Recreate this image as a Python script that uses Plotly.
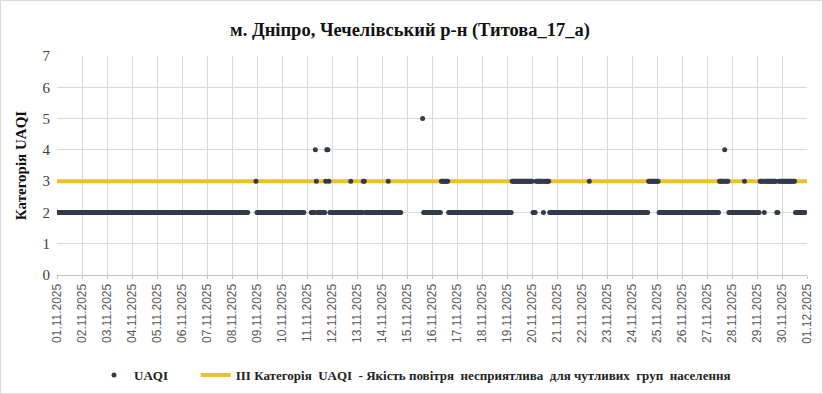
import datetime as dt
import plotly.graph_objects as go

# ---- data (hourly UAQI category, run-length encoded from 01.11.2025 00:00) ----
run_values = [2, None, 3, 2, None, 2, 4, 3, 2, 3, 4, 3, 2, 3, 2, 3, 2, 3, 2, None,
              5, 2, 3, 2, 3, 2, 3, 2, 3, 2, 3, 2, 3, 2, 3, 4, 3, 2, 3, 2,
              3, 2, 3, 2, 3, 2]
run_hours = [184, 7, 1, 46, 6, 4, 1, 1, 8, 1, 2, 1, 20, 1, 11, 2, 22, 1, 12, 20,
             1, 17, 7, 61, 20, 3, 7, 1, 5, 38, 1, 56, 10, 58, 5, 1, 3, 15, 1, 14,
             4, 1, 11, 2, 16, 10]
threshold_value = 3
start_date = "2025-11-01"
end_date = "2025-12-01"
tick_labels = ["%02d.11.2025" % d for d in range(1, 31)] + ["01.12.2025"]

title_text = "м. Дніпро, Чечелівський р-н (Титова_17_а)"
series_name = "UAQI"
threshold_name = "III Категорія  UAQI  - Якість повітря  несприятлива  для чутливих  груп  населення"

# ---- expand runs into hourly series ----
t0 = dt.datetime.fromisoformat(start_date)
xs, ys = [], []
h = 0
for v, n in zip(run_values, run_hours):
    for _ in range(n):
        if v is not None:
            xs.append(t0 + dt.timedelta(hours=h))
            ys.append(v)
        h += 1

tick_vals = [t0 + dt.timedelta(days=i) for i in range(len(tick_labels))]

serif = "Liberation Serif"
sans = "Liberation Sans"

fig = go.Figure()
fig.add_trace(go.Scatter(
    x=[start_date, end_date], y=[threshold_value, threshold_value],
    mode="lines", name="<b>" + threshold_name + "</b>",
    line=dict(color="#EEC12B", width=4), legendrank=2, hoverinfo="skip"))
fig.add_trace(go.Scatter(
    x=xs, y=ys, mode="markers",
    name="<b>" + series_name + "</b>" + "\u00a0" * 7,
    marker=dict(color="#333B4A", size=5), legendrank=1))

W, H = 823, 394
L, R, T, B = 57, 16, 56, 119
pw, ph = W - L - R, H - T - B

fig.update_layout(
    width=W, height=H,
    margin=dict(l=L, r=R, t=T, b=B, autoexpand=False),
    paper_bgcolor="white", plot_bgcolor="white",
    font=dict(family=serif),
    title=dict(text="<b>" + title_text + "</b>", x=410 / W, xref="container",
               xanchor="center", y=1 - 30 / H, yref="container", yanchor="middle",
               font=dict(family=serif, size=18.5, color="#111111")),
    showlegend=True,
    legend=dict(orientation="h", x=(415 - L) / pw, xanchor="center",
                y=(T + ph - 375) / ph, yanchor="middle",
                font=dict(family=serif, size=13, color="#222222"),
                itemwidth=30, tracegroupgap=0, bgcolor="rgba(0,0,0,0)"),
    shapes=[dict(type="rect", xref="paper", yref="paper",
                 x0=(0.5 - L) / pw, x1=(W - 0.5 - L) / pw,
                 y0=(T + ph - (H - 0.5)) / ph, y1=(T + ph - 0.5) / ph,
                 line=dict(color="#D9D9D9", width=1), layer="below")],
)
fig.update_xaxes(
    type="date", range=[start_date, end_date], automargin=False,
    tickmode="array", tickvals=tick_vals, ticktext=tick_labels,
    tickangle=-90, tickfont=dict(family=sans, size=12, color="#595959"),
    showgrid=True, gridcolor="#D9D9D9", gridwidth=1,
    showline=True, linecolor="#BFBFBF", linewidth=1,
    ticks="outside", ticklen=3, tickcolor="#BFBFBF", zeroline=False)
fig.update_yaxes(
    range=[0, 7], dtick=1, tick0=0, automargin=False,
    tickfont=dict(family=serif, size=15, color="#404040"),
    showgrid=True, gridcolor="#D9D9D9", gridwidth=1, zeroline=False,
    showline=False, ticks="", ticklabelstandoff=6,
    title=dict(text="<b>Категорія UAQI</b>", standoff=12,
               font=dict(family=serif, size=15, color="#111111")))

fig.write_html("out.html", config={"displayModeBar": False},
               post_script="document.body.style.margin='0px';")
